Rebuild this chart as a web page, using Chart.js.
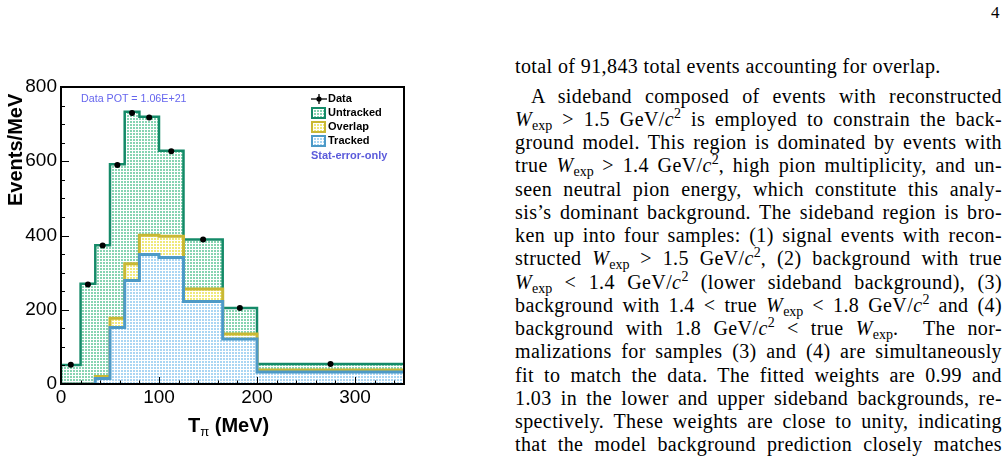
<!DOCTYPE html>
<html>
<head>
<meta charset="utf-8">
<script src="https://cdn.jsdelivr.net/npm/chart.js@4.4.1/dist/chart.umd.min.js"></script>
<style>
  body { margin: 0; background: #fff; width: 1008px; height: 471px; overflow: hidden; position: relative; }
  #plot { position: absolute; left: 0; top: 0; width: 490px; height: 471px; }
  .ov { position: absolute; font-family: "Liberation Sans", Arial, sans-serif; white-space: nowrap; }
  .leg { font-weight: bold; font-size: 11px; color: #000; }
  .sw { position: absolute; width: 11px; height: 8px; border: 2px solid; background-size: 3px 3px;
        background-image: linear-gradient(to right, #fff 1px, transparent 1px), linear-gradient(to bottom, #fff 1px, transparent 1px); }
  #text { position: absolute; left: 515px; top: 0; width: 487px; font-family: "Liberation Serif", "Times New Roman", serif; font-size: 20px; letter-spacing: 0.4px; color: #000; }
  .ln { position: absolute; left: 0; width: 487px; height: 23px; line-height: 23px; white-space: nowrap; text-align: justify; text-align-last: justify; }
  .ln.last { text-align: left; text-align-last: left; }
  .m sub, .m sup { font-size: 0.7em; line-height: 0; letter-spacing: 0; }
  sub { vertical-align: -0.3em; }
  sup { vertical-align: 0.55em; }
</style>
</head>
<body>
<canvas id="plot" width="490" height="471"></canvas>

<div class="ov" style="left:81px; top:92px; font-size:10.7px; color:#6666ee;">Data POT = 1.06E+21</div>
<div class="ov" style="left:4px; top:206px; transform-origin:0 0; transform:rotate(-90deg); font-size:20px; font-weight:bold;">Events/MeV</div>
<div class="ov" style="left:188px; top:414px; font-size:20px; font-weight:bold;">T<span style="font-weight:normal; font-size:13px; position:relative; top:4px;">π</span> (MeV)</div>

<svg class="ov" style="left:311px; top:93px;" width="16" height="12"><line x1="0" y1="6" x2="16" y2="6" stroke="#000" stroke-width="1.3"/><line x1="8" y1="1" x2="8" y2="11" stroke="#000" stroke-width="1.3"/><circle cx="8" cy="6" r="2.6" fill="#000"/></svg>
<div class="ov leg" style="left:328px; top:92px;">Data</div>
<div class="sw" style="left:311px; top:107px; border-color:#148a68; background-color:#86d4b2;"></div>
<div class="ov leg" style="left:328px; top:106px;">Untracked</div>
<div class="sw" style="left:311px; top:121px; border-color:#c9b834; background-color:#efe97a;"></div>
<div class="ov leg" style="left:328px; top:120px;">Overlap</div>
<div class="sw" style="left:311px; top:135px; border-color:#4d9ac7; background-color:#aad6f3;"></div>
<div class="ov leg" style="left:328px; top:134px;">Tracked</div>
<div class="ov leg" style="left:311px; top:149px; color:#5b5bdb;">Stat-error-only</div>

<div id="text">
  <div style="position:absolute; left:476px; top:3px; font-size:17px;">4</div>
  <div class="ln last" style="top:55px;">total of 91,843 total events accounting for overlap.</div>
  <div class="ln" style="top:85px; left:16px; width:471px;">A sideband composed of events with reconstructed</div>
  <div class="ln m" style="top:108px;"><i>W</i><sub>exp</sub> &gt; 1.5 GeV/<i>c</i><sup>2</sup> is employed to constrain the back-</div>
  <div class="ln" style="top:131px;">ground model. This region is dominated by events with</div>
  <div class="ln m" style="top:154px;">true <i>W</i><sub>exp</sub> &gt; 1.4 GeV/<i>c</i><sup>2</sup>, high pion multiplicity, and un-</div>
  <div class="ln" style="top:178px;">seen neutral pion energy, which constitute this analy-</div>
  <div class="ln" style="top:201px;">sis’s dominant background. The sideband region is bro-</div>
  <div class="ln" style="top:224px;">ken up into four samples: (1) signal events with recon-</div>
  <div class="ln m" style="top:247px;">structed <i>W</i><sub>exp</sub> &gt; 1.5 GeV/<i>c</i><sup>2</sup>, (2) background with true</div>
  <div class="ln m" style="top:271px;"><i>W</i><sub>exp</sub> &lt; 1.4 GeV/<i>c</i><sup>2</sup> (lower sideband background), (3)</div>
  <div class="ln m" style="top:294px;">background with 1.4 &lt; true <i>W</i><sub>exp</sub> &lt; 1.8 GeV/<i>c</i><sup>2</sup> and (4)</div>
  <div class="ln m" style="top:317px;">background with 1.8 GeV/<i>c</i><sup>2</sup> &lt; true <i>W</i><sub>exp</sub>. &nbsp;The nor-</div>
  <div class="ln" style="top:340px;">malizations for samples (3) and (4) are simultaneously</div>
  <div class="ln" style="top:364px;">fit to match the data. The fitted weights are 0.99 and</div>
  <div class="ln" style="top:387px;">1.03 in the lower and upper sideband backgrounds, re-</div>
  <div class="ln" style="top:410px;">spectively. These weights are close to unity, indicating</div>
  <div class="ln" style="top:433px;">that the model background prediction closely matches</div>
</div>

<script>
// bins in T_pi (MeV), values in Events/MeV
const binEdges = [0, 20, 35, 50, 65, 80, 100, 125, 165, 200, 350];
const tracked = [0, 0, 15, 152, 279, 349, 341, 222, 121, 32];
const overlap = [0, 0, 5, 25, 45, 52, 57, 34, 14, 6];
const untracked = [51, 270, 354, 415, 409, 319, 230, 133, 70, 16];
const dataX = [10, 27.5, 42.5, 57.5, 72.5, 90, 112.5, 145, 182.5, 275];
const dataY = [52, 268, 373, 590, 730, 718, 627, 389, 205, 54];
const dataErr = [1.6, 4.2, 5, 6.2, 7, 6, 5, 3.1, 2.4, 0.6];
const xTicks = [0, 100, 200, 300];
const yTicks = [0, 200, 400, 600, 800];

function hatch(color) {
  const c = document.createElement('canvas');
  c.width = 3; c.height = 3;
  const g = c.getContext('2d');
  g.fillStyle = '#fff';
  g.fillRect(0, 0, 3, 3);
  g.fillStyle = color;
  g.fillRect(1, 1, 2, 2);
  return g.createPattern(c, 'repeat');
}

// stack the components and turn each level into step points
function steps(levels) {
  const pts = [{ x: binEdges[0], y: 0 }];
  levels.forEach((v, i) => pts.push({ x: binEdges[i], y: v }));
  pts.push({ x: binEdges[binEdges.length - 1], y: levels[levels.length - 1] });
  return pts;
}
const lvlTracked = tracked.slice();
const lvlOverlap = tracked.map((v, i) => v + overlap[i]);
const lvlTotal = lvlOverlap.map((v, i) => v + untracked[i]);

function histSet(levels, line, fillColor, order, width) {
  return {
    type: 'line', data: steps(levels), stepped: 'before', order: order,
    borderColor: line, borderWidth: width, backgroundColor: hatch(fillColor),
    fill: 'origin', pointRadius: 0, tension: 0
  };
}

const frame = {
  id: 'frame',
  afterDatasetsDraw(chart) {
    const ctx = chart.ctx, xs = chart.scales.x, ys = chart.scales.y;
    const a = chart.chartArea;
    ctx.save();
    // error bars
    ctx.strokeStyle = '#000';
    ctx.lineWidth = 1.4;
    dataX.forEach((x, i) => {
      const px = xs.getPixelForValue(x);
      ctx.beginPath();
      ctx.moveTo(px, ys.getPixelForValue(dataY[i] - dataErr[i]));
      ctx.lineTo(px, ys.getPixelForValue(dataY[i] + dataErr[i]));
      ctx.stroke();
    });
    // ticks pointing inward
    ctx.lineWidth = 1;
    for (let v = 0; v <= 350; v += 20) {
      const px = Math.round(xs.getPixelForValue(v)) + 0.5;
      const len = v % 100 === 0 ? 7 : 3.5;
      ctx.beginPath(); ctx.moveTo(px, a.bottom); ctx.lineTo(px, a.bottom - len); ctx.stroke();
    }
    for (let v = 0; v <= 800; v += 50) {
      const py = Math.round(ys.getPixelForValue(v)) + 0.5;
      const len = v % 200 === 0 ? 8 : 4;
      ctx.beginPath(); ctx.moveTo(a.left, py); ctx.lineTo(a.left + len, py); ctx.stroke();
    }
    ctx.lineWidth = 2;
    ctx.strokeRect(a.left, a.top, a.right - a.left, a.bottom - a.top);
    ctx.restore();
  }
};

new Chart(document.getElementById('plot').getContext('2d'), {
  type: 'line',
  data: {
    datasets: [
      {
        type: 'line', label: 'Data', order: 0,
        data: dataX.map((x, i) => ({ x: x, y: dataY[i] })),
        showLine: false, pointRadius: 3, pointBackgroundColor: '#000',
        pointBorderWidth: 0, clip: false
      },
      histSet(lvlTracked, '#4d9ac7', '#aad6f3', 1, 3),
      histSet(lvlOverlap, '#c9b834', '#efe97a', 2, 3),
      histSet(lvlTotal, '#148a68', '#86d4b2', 3, 2.5)
    ]
  },
  options: {
    responsive: false,
    animation: false,
    devicePixelRatio: 1,
    layout: { padding: { top: 87, right: 86, left: 0, bottom: 0 } },
    plugins: { legend: { display: false }, tooltip: { enabled: false } },
    scales: {
      x: {
        type: 'linear', min: 0, max: 350,
        grid: { display: false, drawTicks: false },
        border: { display: false },
        afterBuildTicks: s => { s.ticks = xTicks.map(v => ({ value: v })); },
        afterFit: s => { s.height = 87; },
        ticks: { padding: 2, color: '#000', maxRotation: 0, font: { family: 'Liberation Sans', size: 19 } }
      },
      y: {
        min: 0, max: 800,
        grid: { display: false, drawTicks: false },
        border: { display: false },
        afterBuildTicks: s => { s.ticks = yTicks.map(v => ({ value: v })); },
        afterFit: s => { s.width = 61; },
        ticks: { padding: 4, color: '#000', font: { family: 'Liberation Sans', size: 19 } }
      }
    }
  },
  plugins: [frame]
});
</script>
</body>
</html>
